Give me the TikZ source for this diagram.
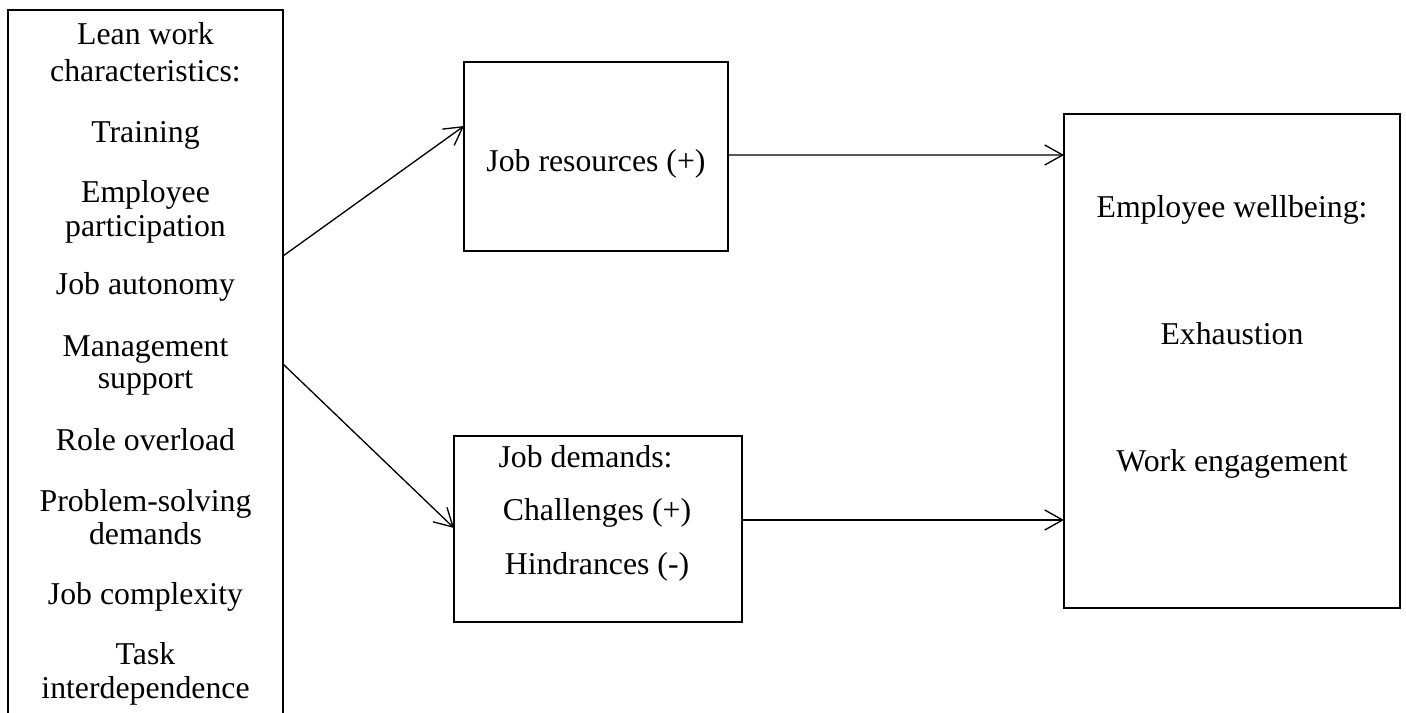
\documentclass[tikz,border=0pt]{standalone}
\usepackage{fontspec}
\setmainfont{Liberation Serif}
\usetikzlibrary{arrows.meta}
\usetikzlibrary{calc}
\usetikzlibrary{fit}

\tikzset{
  box/.style={draw=black,line width=0.75pt,inner sep=0pt,outer sep=0pt},
  lbl/.style={font=\fontsize{12pt}{14pt}\selectfont,text=black,anchor=base,inner sep=0pt},
  arr/.style={draw=black,line width=0.5pt,-{Straight Barb[length=6.8pt,width=7.6pt,line width=0.5pt]}},
}

\begin{document}
\begin{tikzpicture}[x=0.3777pt,y=-0.3777pt]
\useasboundingbox (0,0) rectangle (1406,713);
\clip (0,0) rectangle (1406,713);

% boxes
\node[box,fit={(8,10) (283,740)}] (lean) {};
\node[box,fit={(464,62) (728,251)}] (jr) {};
\node[box,fit={(454,436) (742,622)}] (jd) {};
\node[box,fit={(1064,114) (1400,608)}] (wb) {};

% lean work characteristics
\node[lbl] (leanA) at (145.5,45) {Lean work};
\node[lbl] (leanB) at (145.5,82) {characteristics:};
\node[lbl] (train) at (145.5,143) {Training};
\node[lbl] (partA) at (145.5,203) {Employee};
\node[lbl] (partB) at (145.5,237) {participation};
\node[lbl] (auton) at (145.5,295) {Job autonomy};
\node[lbl] (suppA) at (145.5,357) {Management};
\node[lbl] (suppB) at (145.5,389) {support};
\node[lbl] (overl) at (145.5,451) {Role overload};
\node[lbl] (probA) at (145.5,512) {Problem-solving};
\node[lbl] (probB) at (145.5,545) {demands};
\node[lbl] (compl) at (145.5,605) {Job complexity};
\node[lbl] (taskA) at (145.5,665) {Task};
\node[lbl] (taskB) at (145.5,698) {interdependence};

% job resources and demands
\node[lbl] (jrText) at (596,172) {Job resources (+)};
\node[lbl] (jdHead) at (585.5,468) {Job demands:};
\node[lbl] (jdChal) at (597,521) {Challenges (+)};
\node[lbl] (jdHind) at (597,575) {Hindrances (-)};

% wellbeing
\node[lbl] (wbHead) at (1232,218) {Employee wellbeing:};
\node[lbl] (wbExh) at (1232,345) {Exhaustion};
\node[lbl] (wbEng) at (1232,472) {Work engagement};

% arrows
\draw[arr] ($(lean.north east)+(0,246)$) -- ($(jr.north west)+(0,64)$);
\draw[arr] ($(lean.north east)+(0,354)$) -- ($(jd.north west)+(0,92)$);
\draw[arr] ($(jr.north east)+(0,93)$) -- ($(wb.north west)+(0,41)$);
\draw[arr] ($(jd.north east)+(0,84)$) -- ($(wb.north west)+(0,406)$);

\end{tikzpicture}
\end{document}
